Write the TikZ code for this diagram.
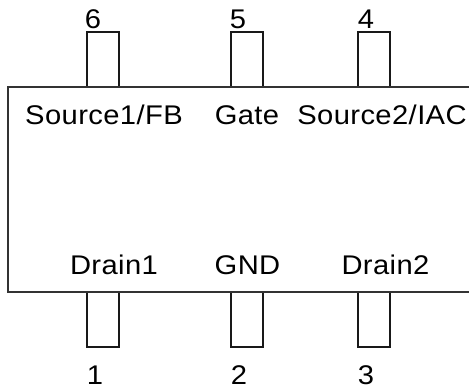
\documentclass[tikz,border=0pt]{standalone}
\usepackage{fontspec}
\setmainfont[FakeStretch=1.08,LetterSpace=1.5]{Liberation Sans}
\begin{document}
\begin{tikzpicture}[x=1pt,y=-1pt,
  pinbox/.style={draw=black!90,line width=1.3pt,minimum width=32pt,minimum height=55pt,inner sep=0pt,outer sep=0pt,anchor=north west},
  body/.style={draw=black!80,line width=1.2pt},
  lbl/.style={inner sep=0pt,outer sep=0pt,anchor=base,text=black,font=\fontsize{27}{27}\selectfont}]
\useasboundingbox (0,0) rectangle (469,389);
\node[pinbox] (p6) at (87,32) {};
\node[pinbox] (p5) at (231,32) {};
\node[pinbox] (p4) at (358,32) {};
\node[pinbox] (p1) at (87,292) {};
\node[pinbox] (p2) at (231,292) {};
\node[pinbox] (p3) at (358,292) {};
\draw[body] (469,87) -- (8,87) -- (8,292) -- (469,292);
\node[lbl] (n6) at (93,28) {6};
\node[lbl] (n5) at (238,28) {5};
\node[lbl] (n4) at (366,28) {4};
\node[lbl] (n1) at (95,384) {1};
\node[lbl] (n2) at (239,384) {2};
\node[lbl] (n3) at (366,384) {3};
\node[lbl] (a) at (104,124) {Source1/FB};
\node[lbl] (b) at (247,124) {Gate};
\node[lbl] (c) at (382,124) {Source2/IAC};
\node[lbl] (d) at (114,274) {Drain1};
\node[lbl] (e) at (247.5,274) {GND};
\node[lbl] (f) at (385.5,274) {Drain2};
\end{tikzpicture}
\end{document}
